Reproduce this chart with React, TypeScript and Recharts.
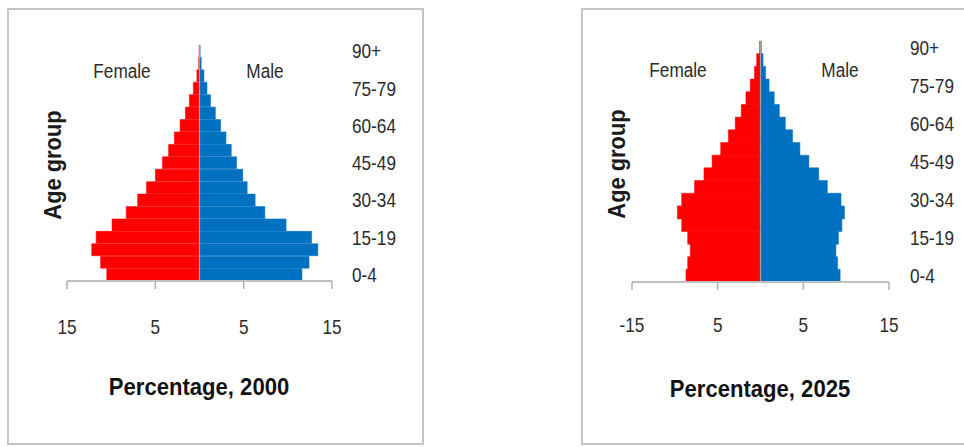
import React from 'react';
import { BarChart, Bar, XAxis, YAxis, ReferenceLine } from 'recharts';

const ages = ['0-4','5-9','10-14','15-19','20-24','25-29','30-34','35-39','40-44','45-49','50-54','55-59','60-64','65-69','70-74','75-79','80-84','85-89','90+'];
const female2000 = [10.5, 11.2, 12.2, 11.7, 9.9, 8.3, 7.0, 6.0, 5.0, 4.2, 3.5, 2.85, 2.2, 1.6, 1.15, 0.7, 0.3, 0.1, 0.05];
const male2000 = [11.6, 12.4, 13.4, 12.7, 9.8, 7.4, 6.3, 5.4, 4.9, 4.2, 3.6, 3.0, 2.4, 1.8, 1.25, 0.85, 0.5, 0.2, 0.07];
const female2025 = [8.7, 8.5, 8.2, 8.5, 9.2, 9.7, 9.2, 7.7, 6.6, 5.65, 4.65, 3.75, 2.95, 2.25, 1.7, 1.2, 0.7, 0.45, 0.1];
const male2025 = [9.3, 9.0, 8.8, 9.1, 9.5, 9.8, 9.4, 7.8, 6.8, 5.65, 4.6, 3.75, 2.9, 2.2, 1.6, 1.0, 0.6, 0.3, 0.1];
const xTicks = [-15, -5, 5, 15];

const FONT = "'Liberation Sans', Arial, sans-serif";
const SQ = 0.86;

const build = (f: number[], m: number[]) =>
  ages.map((age, i) => ({ age, female: -f[i], male: m[i] }));

const makeTick = (anchor: string, dy: string, fmt?: (v: any) => string) => (props: any) => {
  const { x, y, payload } = props;
  const label = fmt ? fmt(payload.value) : String(payload.value);
  return (
    <g transform={`translate(${x},${y})`}>
      <text
        transform={`scale(${SQ},1)`}
        textAnchor={anchor}
        dy={dy}
        fill="#2b2b2b"
        fontSize={20}
        fontFamily={FONT}
      >
        {label}
      </text>
    </g>
  );
};

type PanelProps = {
  data: any[];
  left: number;
  width: number;
  marginLeft: number;
  marginTop: number;
  marginBottom: number;
  yWidth: number;
  tickMargin: number;
  xTickMargin: number;
  fmt: (v: number) => string;
};

const Panel = (p: PanelProps) => (
  <div style={{ position: 'absolute', left: p.left, top: 0 }}>
    <BarChart
      width={p.width}
      height={447}
      data={p.data}
      layout="vertical"
      stackOffset="sign"
      barCategoryGap={0}
      barGap={0}
      margin={{ top: p.marginTop, right: 0, bottom: p.marginBottom, left: p.marginLeft }}
    >
      <XAxis
        type="number"
        domain={[-15, 15]}
        ticks={xTicks}
        interval={0}
        axisLine={{ stroke: '#c0c0c0', strokeWidth: 2 }}
        tickLine={{ stroke: '#b0b0b0', strokeWidth: 1.5 }}
        tickSize={8}
        tickMargin={p.xTickMargin}
        height={60}
        tick={makeTick('middle', '0.71em', p.fmt)}
      />
      <YAxis
        type="category"
        dataKey="age"
        orientation="right"
        reversed
        interval={2}
        axisLine={false}
        tickLine={false}
        tickSize={0}
        tickMargin={p.tickMargin}
        width={p.yWidth}
        tick={makeTick('start', '0.36em')}
      />
      <Bar dataKey="female" stackId="a" fill="#FF0000" stroke="#FF0000" strokeWidth={0.5} isAnimationActive={false} />
      <Bar dataKey="male" stackId="a" fill="#0070C0" stroke="#0070C0" strokeWidth={0.5} isAnimationActive={false} />
      <ReferenceLine x={0} stroke="#a0a0a0" strokeWidth={1.2} />
    </BarChart>
  </div>
);

const T = ({ x, y, text, size, bold, rotate, color, sx }: any) => (
  <div
    style={{
      position: 'absolute',
      left: x,
      top: y,
      transform: `translate(-50%, -50%)${rotate ? ' rotate(-90deg)' : ''} scaleX(${sx})`,
      fontFamily: FONT,
      fontSize: size,
      fontWeight: bold ? 700 : 400,
      color: color || '#2b2b2b',
      whiteSpace: 'nowrap',
      lineHeight: 1,
    }}
  >
    {text}
  </div>
);

export default function App() {
  const d2000 = build(female2000, male2000);
  const d2025 = build(female2025, male2025);
  return (
    <div style={{ width: 956, height: 439 }}>
      <div
        style={{
          position: 'absolute', left: 7, top: 8, width: 417, height: 437,
          boxSizing: 'border-box', border: '2px solid #c4c4c4', background: '#fff',
        }}
      />
      <div
        style={{
          position: 'absolute', left: 581, top: 8, width: 383, height: 437,
          boxSizing: 'border-box', border: '2px solid #c4c4c4', borderRight: 'none', background: '#fff',
        }}
      />
      <Panel
        data={d2000}
        left={0}
        width={440}
        marginLeft={67}
        marginTop={45}
        marginBottom={106}
        yWidth={108}
        tickMargin={20}
        xTickMargin={31}
        fmt={(v: number) => String(Math.abs(v))}
      />
      <Panel
        data={d2025}
        left={560}
        width={404}
        marginLeft={72}
        marginTop={41}
        marginBottom={105}
        yWidth={75}
        tickMargin={21}
        xTickMargin={28}
        fmt={(v: number) => (v === -15 ? '-15' : String(Math.abs(v)))}
      />
      <T x={122} y={71} text="Female" size={20} sx={0.86} />
      <T x={265} y={71} text="Male" size={20} sx={0.86} />
      <T x={53} y={165} text="Age group" size={23} bold rotate sx={0.95} color="#1a1a1a" />
      <T x={199} y={387} text="Percentage, 2000" size={24} bold sx={0.92} color="#111" />
      <T x={678} y={70} text="Female" size={20} sx={0.86} />
      <T x={840} y={70} text="Male" size={20} sx={0.86} />
      <T x={617} y={164} text="Age group" size={23} bold rotate sx={0.95} color="#1a1a1a" />
      <T x={760} y={389} text="Percentage, 2025" size={24} bold sx={0.92} color="#111" />
    </div>
  );
}
